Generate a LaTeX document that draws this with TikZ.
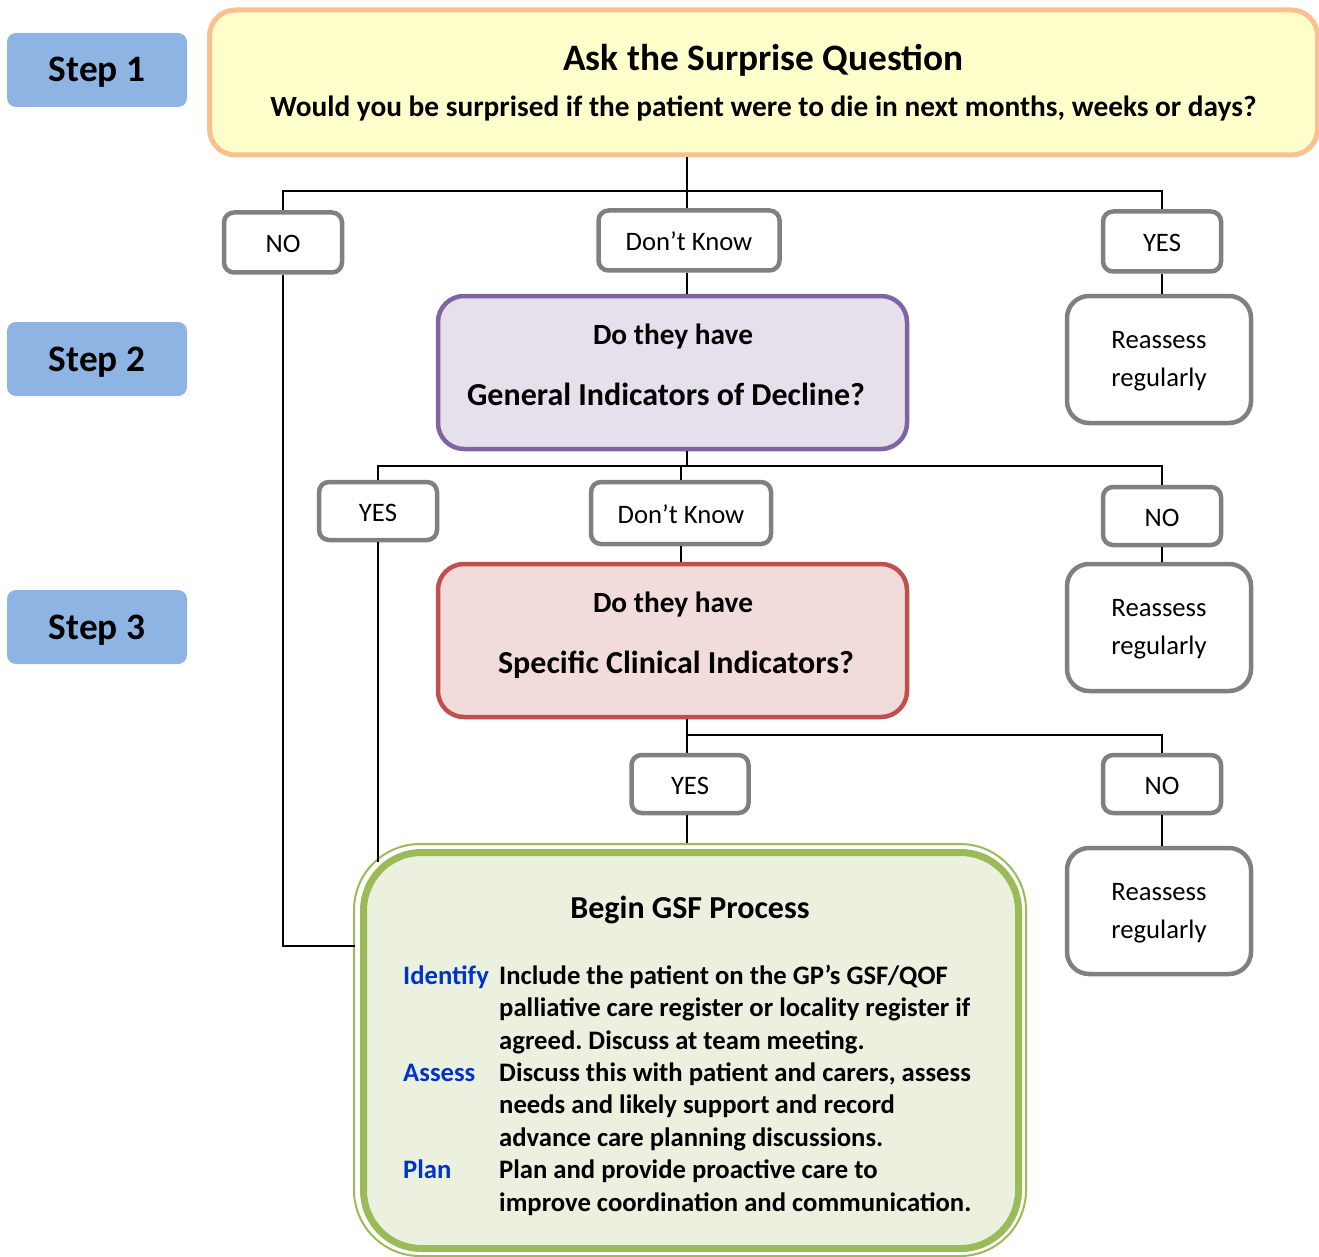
\documentclass[tikz,border=0pt]{standalone}
\usepackage{fontspec}
\setmainfont{Carlito}
\frenchspacing
\definecolor{stepblue}{HTML}{8EB4E3}
\definecolor{topfill}{HTML}{FFFFCC}
\definecolor{topline}{HTML}{FAC090}
\definecolor{purfill}{HTML}{E5E0EC}
\definecolor{purline}{HTML}{8064A2}
\definecolor{redfill}{HTML}{F2DCDB}
\definecolor{redline}{HTML}{C0504D}
\definecolor{grnfill}{HTML}{EBF1DE}
\definecolor{grnline}{HTML}{9BBB59}
\definecolor{boxgray}{HTML}{808080}
\definecolor{lblblue}{HTML}{0033CC}
\newcommand\fTen{\fontsize{26.67}{32.4}\selectfont}
\newcommand\fEleven{\fontsize{29.33}{35}\selectfont}
\newcommand\fTwelve{\fontsize{32}{39}\selectfont}
\newcommand\fFourteen{\fontsize{37.33}{45}\selectfont}
\begin{document}
\begin{tikzpicture}[x=1pt,y=-1pt,
  stepbox/.style={fill=stepblue,rounded corners=9,minimum width=180,minimum height=74,inner sep=0,
    font=\fFourteen\bfseries,text height=24,text depth=0},
  choice/.style={draw=boxgray,line width=4.5,rounded corners=10,fill=white,inner sep=0,
    minimum height=60,font=\fTen,text height=21,text depth=0},
  reassess/.style={draw=boxgray,line width=4.5,rounded corners=22,fill=white,inner sep=0,
    minimum width=184,minimum height=127},
  bigbox/.style={line width=4.5,rounded corners=26,inner sep=0,minimum width=469,minimum height=153},
  txt/.style={inner sep=0,anchor=base},
  ltxt/.style={inner sep=0,anchor=base west},
  conn/.style={draw=black,line width=2}]
\useasboundingbox (0,0) rectangle (1319,1257);

% step labels
\node[stepbox] (s1) at (97,70) {Step 1};
\node[stepbox] (s2) at (97,359) {Step 2};
\node[stepbox] (s3) at (97,627) {Step 3};

% top box
\node[draw=topline,fill=topfill,line width=5,rounded corners=26,minimum width=1108,minimum height=145,inner sep=0] (top) at (763.5,82.5) {};
\node[txt,font=\fFourteen\bfseries] (toptitle) at (763.5,70.5) {Ask the Surprise Question};
\node[txt,font=\fEleven\bfseries] (topsub) at (763.5,117) {Would you be surprised if the patient were to die in next months, weeks or days?};

% level 1 choices
\node[choice,minimum width=118] (no1) at (283,242.5) {NO};
\node[choice,minimum width=181] (dk1) at (689,240.5) {Don’t Know};
\node[choice,minimum width=118] (yes1) at (1162,241.5) {YES};
\node[reassess] (r1) at (1159,359.5) {};
\node[txt,font=\fTen] (r1a) at (1159,348) {Reassess};
\node[txt,font=\fTen] (r1b) at (1159,386) {regularly};

% purple box
\node[bigbox,draw=purline,fill=purfill] (pur) at (672.5,372.5) {};
\node[txt,font=\fEleven\bfseries] (pura) at (673,344) {Do they have};
\node[txt,font=\fTwelve\bfseries] (purb) at (666,405) {General Indicators of Decline?};

% level 2 choices
\node[choice,minimum width=118,minimum height=58] (yes2) at (378,511) {YES};
\node[choice,minimum width=180,minimum height=62] (dk2) at (681,513) {Don’t Know};
\node[choice,minimum width=118,minimum height=58] (no2) at (1162,516) {NO};
\node[reassess] (r2) at (1159,627.5) {};
\node[txt,font=\fTen] (r2a) at (1159,616) {Reassess};
\node[txt,font=\fTen] (r2b) at (1159,654) {regularly};

% red box
\node[bigbox,draw=redline,fill=redfill] (red) at (672.5,640.5) {};
\node[txt,font=\fEleven\bfseries] (reda) at (673,612) {Do they have};
\node[txt,font=\fTwelve\bfseries] (redb) at (676,673) {Specific Clinical Indicators?};

% level 3 choices
\node[choice,minimum width=117,minimum height=58] (yes3) at (690,784) {YES};
\node[choice,minimum width=118,minimum height=58] (no3) at (1162,784) {NO};
\node[reassess,minimum height=126] (r3) at (1159,911) {};
\node[txt,font=\fTen] (r3a) at (1159,900) {Reassess};
\node[txt,font=\fTen] (r3b) at (1159,938) {regularly};

% green box
\node[draw=grnline,fill=grnfill,line width=7,rounded corners=58,minimum width=655,minimum height=396,inner sep=0] (grn) at (691,1050.5) {};
\node[draw=grnline,line width=2,rounded corners=66,minimum width=672,minimum height=412,inner sep=0] (grnout) at (690,1050) {};
\node[txt,font=\fTwelve\bfseries] (gtitle) at (690,918) {Begin GSF Process};
\begin{scope}[every node/.style={ltxt,font=\fTen\bfseries}]
\node[text=lblblue] (lid) at (403,984) {Identify};
\node[text=lblblue] (las) at (403,1081) {Assess};
\node[text=lblblue] (lpl) at (403,1178.5) {Plan};
\node (t1) at (499,984) {Include the patient on the GP’s GSF/QOF};
\node (t2) at (499,1016.5) {palliative care register or locality register if};
\node (t3) at (499,1049) {agreed. Discuss at team meeting.};
\node (t4) at (499,1081) {Discuss this with patient and carers, assess};
\node (t5) at (499,1113.5) {needs and likely support and record};
\node (t6) at (499,1146) {advance care planning discussions.};
\node (t7) at (499,1178.5) {Plan and provide proactive care to};
\node (t8) at (499,1211) {improve coordination and communication.};
\end{scope}

% junctions
\coordinate (j1) at (687,191);
\coordinate (j2) at (687,466);
\coordinate (j3) at (687,735);
\coordinate (g1) at (355,946);
\coordinate (g2) at (378,862);

% connectors
\draw[conn] (j1 |- top.south) -- (j1);
\draw[conn] (no1.north) |- (j1) -| (yes1.north);
\draw[conn] (j1) -- (j1 |- dk1.north);
\draw[conn] (j1 |- dk1.south) -- (j1 |- pur.north);
\draw[conn] (yes1.south) -- (yes1.south |- r1.north);
\draw[conn] (no1.south) |- (g1);

\draw[conn] (j2 |- pur.south) -- (j2);
\draw[conn] (yes2.north) |- (j2) -| (no2.north);
\draw[conn] (dk2.north) -- (dk2.north |- j2);
\draw[conn] (dk2.south) -- (dk2.south |- red.north);
\draw[conn] (no2.south) -- (no2.south |- r2.north);
\draw[conn] (yes2.south) -- (yes2.south |- g2);

\draw[conn] (j3 |- red.south) -- (j3) -| (no3.north);
\draw[conn] (j3) -- (j3 |- yes3.north);
\draw[conn] (j3 |- yes3.south) -- (j3 |- grnout.north);
\draw[conn] (no3.south) -- (no3.south |- r3.north);
\end{tikzpicture}
\end{document}
